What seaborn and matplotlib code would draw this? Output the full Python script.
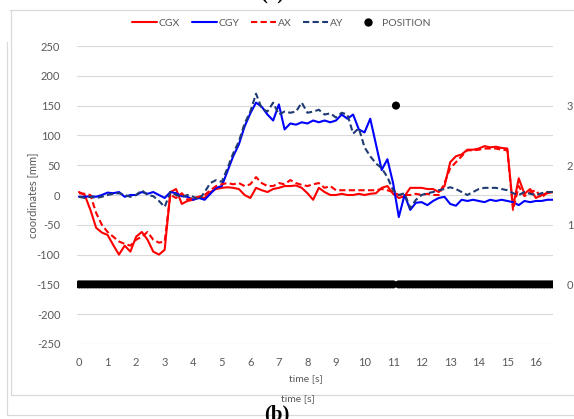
import numpy as np
import pandas as pd
import seaborn as sns
import matplotlib
matplotlib.use("Agg")
import matplotlib.pyplot as plt
from matplotlib.lines import Line2D

# ---- data -------------------------------------------------------------
time = [round(0.2 * i, 1) for i in range(84)]  # 0.0 ... 16.6 s

cgx = [5, 0, -25, -55, -63, -67, -84, -100, -85, -95,
       -70, -62, -75, -95, -100, -92, 5, 10, -15, -10,
       -8, -3, -5, 5, 10, 12, 13, 12, 10, 0,
       -5, 12, 8, 5, 10, 12, 15, 15, 16, 12,
       3, -8, 12, 5, 0, 0, 2, 0, 0, 2,
       0, 2, 3, 12, 15, 2, -5, -2, 12, 12,
       12, 10, 10, 5, 15, 55, 65, 68, 76, 76,
       78, 82, 80, 81, 79, 78, -20, 28, 2, 10,
       -5, 0, 3, 5]

cgy = [-3, -3, -2, -3, 0, 4, 3, 5, -3, 0,
       0, 5, 2, 5, 0, -5, 5, 3, -2, -3,
       -8, -5, -8, 2, 12, 15, 40, 65, 85, 115,
       137, 155, 148, 135, 125, 152, 110, 120, 118, 122,
       120, 125, 122, 125, 122, 125, 135, 128, 135, 110,
       105, 128, 85, 42, 60, 20, -37, 0, -25, -13,
       -12, -17, -10, -5, -3, -15, -18, -8, -10, -8,
       -10, -12, -8, -10, -8, -10, -12, -17, -10, -12,
       -10, -10, -8, -8]

ax_vals = [3, 2, 0, -30, -50, -62, -70, -78, -82, -85,
           -75, -70, -62, -75, -80, -78, 0, -5, 3, -8,
           -5, -3, 0, 8, 15, 18, 20, 18, 20, 15,
           18, 30, 20, 15, 15, 20, 18, 25, 20, 17,
           15, 18, 20, 12, 15, 8, 8, 8, 8, 8,
           8, 8, 8, 10, 8, 5, 0, 0, 0, 2,
           0, 2, 0, 0, 20, 45, 55, 65, 75, 75,
           76, 78, 78, 78, 76, 75, -25, 15, -2, 5,
           8, -5, 5, 5]

ay_vals = [-3, -5, -3, -5, -3, 0, 2, 3, 0, -3,
           0, 8, 0, -2, -10, -20, 5, 0, -3, 0,
           -3, -8, 5, 20, 25, 22, 45, 70, 90, 120,
           140, 170, 145, 140, 155, 135, 140, 138, 140, 155,
           138, 140, 143, 135, 137, 130, 138, 135, 103, 112,
           80, 65, 53, 45, 30, 8, 0, 3, -22, -8,
           0, 3, 5, 8, 10, 13, 10, 5, 0, 5,
           10, 12, 12, 12, 10, 8, 3, 0, 5, 2,
           0, 3, 5, 5]

pos_time = [round(0.1 * i, 1) for i in range(167)]
position = [0] * 111 + [3] + [0] * 55

x_ticks = list(range(0, 17))
y_ticks = list(range(-250, 251, 50))
pos_ticks = [0, 1, 2, 3]

# ---- style ------------------------------------------------------------
sns.set_theme(style="white")
plt.rcParams["font.family"] = ["Lato", "DejaVu Sans"]
plt.rcParams["axes.unicode_minus"] = False
grey = "#595959"

fig = plt.figure(figsize=(5.74, 4.19), dpi=100)
ax = fig.add_axes([77 / 574, 1 - 344 / 419, 476 / 574, 298 / 419])

df = pd.DataFrame({"time": time, "CGX": cgx, "CGY": cgy, "AX": ax_vals, "AY": ay_vals})

specs = [
    ("CGX", "#ff0000", "-"),
    ("CGY", "#0000ff", "-"),
    ("AX", "#ff0000", (0, (3, 1.6))),
    ("AY", "#1f3b73", (0, (3, 1.6))),
]
for name, col, ls in specs:
    sns.lineplot(data=df, x="time", y=name, ax=ax, color=col, linewidth=1.5,
                 estimator=None, legend=False)
    ax.lines[-1].set_linestyle(ls)

ax.set_xlim(-0.07, 16.6)
ax.set_ylim(-250, 250)
ax.set_xticks(x_ticks)
ax.set_yticks(y_ticks)
ax.yaxis.grid(True, color="#d9d9d9", linewidth=0.8)
ax.set_axisbelow(True)
for s in ax.spines.values():
    s.set_visible(False)
ax.tick_params(axis="both", length=0, labelsize=8, labelcolor=grey)
ax.tick_params(axis="y", pad=12)
ax.tick_params(axis="x", pad=9)
ax.set_xlabel("time [s]", fontsize=7.5, color=grey)
ax.set_ylabel("coordinates [mm]", fontsize=8, color=grey)
ax.xaxis.set_label_coords(0.481, -0.10)
ax.yaxis.set_label_coords(-0.082, 0.5)

ax2 = ax.twinx()
ax2.set_position(ax.get_position())
sns.scatterplot(x=pos_time, y=position, ax=ax2, color="black", s=34,
                edgecolor="none", linewidth=0, legend=False, zorder=3)
ax2.set_ylim(-1, 4)
ax2.set_yticks(pos_ticks)
ax2.grid(False)
for s in ax2.spines.values():
    s.set_visible(False)
ax2.tick_params(axis="y", length=0, labelsize=8, labelcolor=grey, pad=10)
ax2.set_ylabel("")

# ---- legend -----------------------------------------------------------
handles = [
    Line2D([], [], color="#ff0000", lw=1.5),
    Line2D([], [], color="#0000ff", lw=1.5),
    Line2D([], [], color="#ff0000", lw=1.5, ls=(0, (3, 1.6))),
    Line2D([], [], color="#1f3b73", lw=1.5, ls=(0, (3, 1.6))),
    Line2D([], [], color="black", marker="o", ls="none", markersize=5),
]
leg = fig.legend(handles, ["CGX", "CGY", "AX", "AY", "POSITION"],
                 loc="center", bbox_to_anchor=(0.49, 1 - 23 / 419), ncol=5,
                 frameon=False, fontsize=7.5, handlelength=2.4,
                 handletextpad=0.2, columnspacing=1.1)
for t in leg.get_texts():
    t.set_color(grey)

# ---- chart frame and neighbouring captions ----------------------------
W, H = 574, 419
def fline(x0, y0, x1, y1):
    fig.add_artist(Line2D([x0 / W, x1 / W], [1 - y0 / H, 1 - y1 / H],
                          color="#d9d9d9", lw=0.9, transform=fig.transFigure))

fline(10, 10, 574, 10)
fline(11, 10, 11, 395)
fline(11, 395, 574, 395)
fline(7, 42, 7, 415)
fline(7, 415, 574, 415)

fig.text(272 / W, 1 + 1 / H, "(a)", ha="center", va="baseline",
         fontsize=15, fontweight="bold", family="Liberation Serif", color="black")
fig.text(298 / W, 1 - 399 / H, "time [s]", ha="center", va="center",
         fontsize=7.5, color=grey)
fig.text(277 / W, 1 - 404 / H, "(b)", ha="center", va="top",
         fontsize=15, fontweight="bold", family="Liberation Serif", color="black")

fig.savefig("out.png", dpi=100)
